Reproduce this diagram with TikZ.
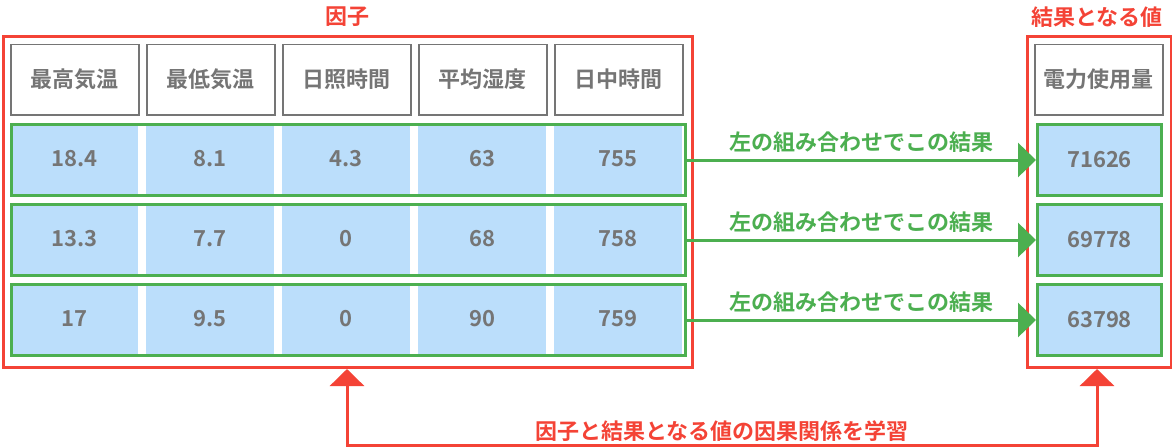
\documentclass[tikz,border=0pt]{standalone}
\usepackage{fontspec}
\setmainfont{Noto Sans CJK JP}[BoldFont={* Bold}]
\usetikzlibrary{arrows.meta}
\definecolor{cred}{RGB}{244,67,54}
\definecolor{cgreen}{RGB}{76,175,80}
\definecolor{cblue}{RGB}{187,222,251}
\definecolor{cgray}{RGB}{117,117,117}
\begin{document}
\begin{tikzpicture}[x=1pt,y=-1pt,
  txt/.style={font=\fontsize{22}{26}\selectfont\bfseries},
  hdr/.style={draw=cgray,line width=1.5pt,fill=white,text=cgray,minimum width=128pt,minimum height=70.5pt,inner sep=0pt,txt},
  val/.style={fill=cblue,text=cgray,minimum width=128pt,minimum height=71pt,inner sep=0pt,txt},
  rowbox/.style={draw=cgreen,line width=3pt},
  redbox/.style={draw=cred,line width=3pt},
  garrow/.style={draw=cgreen,line width=3pt,-{Triangle[length=18pt,width=34pt]}},
  rarrow/.style={draw=cred,line width=3pt,{Triangle[length=17pt,width=34pt]}-{Triangle[length=17pt,width=34pt]}},
  glabel/.style={text=cgreen,txt,inner sep=0pt},
  rlabel/.style={text=cred,txt,inner sep=0pt}]
\useasboundingbox (0,0) rectangle (1172,447);
\fill[white] (0,0) rectangle (1172,447);
% red frames
\node[redbox,minimum width=689pt,minimum height=331.5pt,inner sep=0pt,anchor=north west] (factors) at (1.5,34.5) {};
\node[redbox,minimum width=144.5pt,minimum height=331.5pt,inner sep=0pt,anchor=north west] (result) at (1025.5,34.5) {};
\node[rlabel] (tf) at (347,17) {因子};
\node[rlabel] (tr) at (1097,17) {結果となる値};
% headers
\foreach \t [count=\i from 0] in {最高気温,最低気温,日照時間,平均湿度,日中時間}
  \node[hdr,anchor=north west] (h\i) at (10+136*\i,43.5) {\t};
\node[hdr,anchor=north west] (hr) at (1034,43.5) {電力使用量};
% rows
\foreach \r/\a/\b/\c/\d/\e/\res in {0/18.4/8.1/4.3/63/755/71626,1/13.3/7.7/0/68/758/69778,2/17/9.5/0/90/759/63798}{
  \foreach \v [count=\i from 0] in {\a,\b,\c,\d,\e}
    \node[val,anchor=north west] (c\r\i) at (10+136*\i,123+80*\r) {\v};
  \node[rowbox,minimum width=674pt,minimum height=71pt,inner sep=0pt,anchor=north west] (row\r) at (9.5,123+80*\r) {};
  \node[val,rowbox,minimum width=124pt,anchor=north west] (res\r) at (1036,123+80*\r) {\res};
  \draw[garrow] (row\r.east) -- (res\r.west) node[glabel,midway,above=6pt] {左の組み合わせでこの結果};
}
% bottom relation
\coordinate (bl) at (347,445);
\coordinate (br) at (1097,445);
\draw[rarrow] (factors.south -| bl) -- (bl) -- (br) -- (result.south -| br);
\node[rlabel,anchor=south] (rel) at (722,442) {因子と結果となる値の因果関係を学習};
\end{tikzpicture}
\end{document}
